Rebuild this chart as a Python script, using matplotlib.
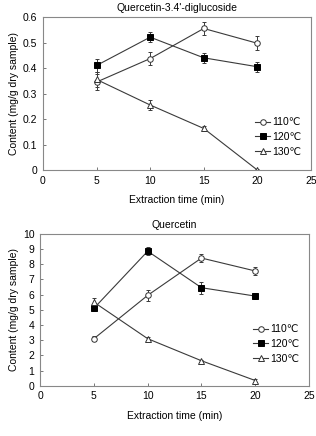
import matplotlib
matplotlib.use('Agg')
import matplotlib.pyplot as plt
from matplotlib.lines import Line2D

plt.rcParams['font.family'] = ['Liberation Sans', 'DejaVu Sans', 'Noto Sans CJK SC']

# ── Data ─────────────────────────────────────────────────────
times = [5, 10, 15, 20]
labels = ['110℃', '120℃', '130℃']

# Quercetin-3,4'-diglucoside (mg/g)
dig_110 = [0.345, 0.437, 0.555, 0.497]
dig_120 = [0.410, 0.521, 0.440, 0.405]
dig_130 = [0.355, 0.255, 0.163, 0.000]
dig_110_err = [0.030, 0.025, 0.025, 0.028]
dig_120_err = [0.025, 0.020, 0.020, 0.020]
dig_130_err = [0.030, 0.018, 0.008, 0.005]

# Quercetin (mg/g)
q_110 = [3.10, 5.95, 8.40, 7.55]
q_120 = [5.10, 8.85, 6.45, 5.90]
q_130 = [5.50, 3.10, 1.65, 0.35]
q_110_err = [0.15, 0.35, 0.25, 0.25]
q_120_err = [0.20, 0.25, 0.40, 0.20]
q_130_err = [0.30, 0.10, 0.08, 0.10]

STYLES = [
    dict(marker='o', mfc='white', mec='#333333'),
    dict(marker='s', mfc='black', mec='black'),
    dict(marker='^', mfc='white', mec='#333333'),
]
LINE = '#3a3a3a'
FS = 7.5

fig = plt.figure(figsize=(3.16, 4.36), dpi=100)
fig.patch.set_facecolor('white')


def draw_panel(ax, series, errs, title, ymax, ystep, legend_y):
    handles = []
    for vals, err, lab, st in zip(series, errs, labels, STYLES):
        ax.errorbar(times, vals, yerr=err, color=LINE, lw=0.8,
                    elinewidth=0.7, capsize=1.5, capthick=0.7,
                    markersize=4, markeredgewidth=0.7, **st)
        handles.append(Line2D([], [], color=LINE, lw=0.8, markersize=4,
                              markeredgewidth=0.7, label=lab, **st))
    ax.set_xlim(0, 25)
    ax.set_ylim(0, ymax)
    ax.set_xticks(range(0, 26, 5))
    n = int(round(ymax / ystep))
    yt = [i * ystep for i in range(n + 1)]
    ax.set_yticks(yt)
    if ystep < 1:
        ax.set_yticklabels(['0'] + ['%.1f' % v for v in yt[1:]])
    ax.tick_params(direction='in', length=2.5, width=0.7, labelsize=FS,
                   pad=4, top=False, right=False, color='#777777')
    for sp in ax.spines.values():
        sp.set_linewidth(0.8)
        sp.set_color('#888888')
    ax.set_title(title, fontsize=FS, pad=4)
    ax.set_xlabel('Extraction time (min)', fontsize=FS, labelpad=7)
    ax.set_ylabel('Content (mg/g dry sample)', fontsize=FS, labelpad=3)
    ax.legend(handles=handles, loc='center right',
              bbox_to_anchor=(0.965, legend_y),
              frameon=False, fontsize=FS, handlelength=1.45,
              handletextpad=0.2, labelspacing=0.45,
              borderpad=0, borderaxespad=0)


ax1 = fig.add_axes([0.136, 0.610, 0.848, 0.351])
draw_panel(ax1, [dig_110, dig_120, dig_130],
           [dig_110_err, dig_120_err, dig_130_err],
           "Quercetin-3.4'-diglucoside", 0.6, 0.1, 0.216)

ax2 = fig.add_axes([0.127, 0.115, 0.851, 0.349])
draw_panel(ax2, [q_110, q_120, q_130],
           [q_110_err, q_120_err, q_130_err],
           'Quercetin', 10, 1, 0.276)

plt.savefig('out.png', dpi=100, facecolor='white')
